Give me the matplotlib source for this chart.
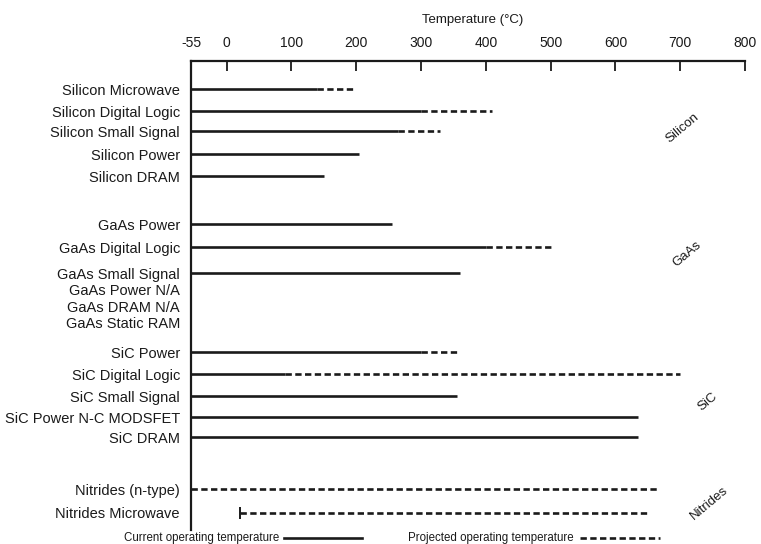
import matplotlib
matplotlib.use("Agg")
import matplotlib.pyplot as plt

plt.rcParams['font.family'] = ['Liberation Sans', 'DejaVu Sans']

# data (temperatures in degC), None = no line
devices = ["Silicon Microwave", "Silicon Digital Logic", "Silicon Small Signal",
           "Silicon Power", "Silicon DRAM",
           "GaAs Power", "GaAs Digital Logic", "GaAs Small Signal",
           "GaAs Power N/A", "GaAs DRAM N/A", "GaAs Static RAM",
           "SiC Power", "SiC Digital Logic", "SiC Small Signal",
           "SiC Power N-C MODSFET", "SiC DRAM",
           "Nitrides (n-type)", "Nitrides Microwave"]
start = [-55] * 17 + [20]
current = [140, 300, 265, 205, 150,
           255, 400, 360, None, None, None,
           300, 90, 355, 635, 635,
           None, None]
projected = [200, 410, 330, None, None,
             None, 500, None, None, None, None,
             360, 700, None, None, None,
             665, 650]
ticks = [-55, 0, 100, 200, 300, 400, 500, 600, 700, 800]
groups = ["Silicon", "GaAs", "SiC", "Nitrides"]

# layout: row positions in pixels from top of figure
row_y = [89, 111, 131, 154, 176, 224, 247, 273, 289, 306, 322,
         352, 374, 396, 417, 437, 489, 513]
group_pos = [(703, 128), (710, 254), (743, 402), (745, 503)]

W, H = 761, 544
top_px, bot_px = 60.7, 530
left_px, right_px = 191, 745

fig = plt.figure(figsize=(W / 100, H / 100), dpi=100)
ax = fig.add_axes([left_px / W, 1 - bot_px / H, (right_px - left_px) / W,
                   (bot_px - top_px) / H])
ax.set_xlim(-55, 800)
ax.set_ylim(bot_px, top_px)

col = '#1a1a1a'
dash = (2.4, 1.3)
for i, name in enumerate(devices):
    y = row_y[i]
    s = start[i]
    if current[i] is not None:
        ax.plot([s, current[i]], [y, y], color=col, lw=1.9, solid_capstyle='butt')
        s = current[i]
    if projected[i] is not None:
        ax.plot([s, projected[i]], [y, y], color=col, lw=1.9,
                dashes=dash, dash_capstyle='butt')
    if start[i] > -55:
        ax.plot([start[i]], [y], marker='|', ms=8, mew=1.4, color=col)

for g, (gx, gy) in zip(groups, group_pos):
    ax.text(gx, gy, g, rotation=40, ha='center', va='center', fontsize=9.5,
            color=col, clip_on=False)

ax.spines['right'].set_visible(False)
ax.spines['bottom'].set_visible(False)
ax.spines['top'].set_linewidth(1.6)
ax.spines['left'].set_linewidth(1.6)
ax.spines['top'].set_color(col)
ax.spines['left'].set_color(col)

ax.xaxis.tick_top()
ax.set_xticks(ticks)
ax.set_xticklabels([str(t) for t in ticks])
ax.tick_params(axis='x', direction='in', length=7, width=1.3, pad=8,
               labelsize=10, colors=col)
ax.set_yticks(row_y)
ax.set_yticklabels(devices)
ax.tick_params(axis='y', length=0, pad=8, labelsize=10.5, colors=col)

fig.text(473 / W, 1 - 20 / H, "Temperature (\u00b0C)", ha='center', va='center',
         fontsize=9.5, color=col)

# legend below the axis
ly = 1 - 538 / H
fig.text(124 / W, ly, "Current operating temperature", ha='left', va='center',
         fontsize=8.3, color=col)
fig.add_artist(plt.Line2D([284 / W, 362 / W], [ly, ly], color=col, lw=1.9))
fig.text(408 / W, ly, "Projected operating temperature", ha='left', va='center',
         fontsize=8.3, color=col)
fig.add_artist(plt.Line2D([580 / W, 660 / W], [ly, ly], color=col, lw=1.9,
                          dashes=dash))

fig.savefig("out.png", dpi=100)
